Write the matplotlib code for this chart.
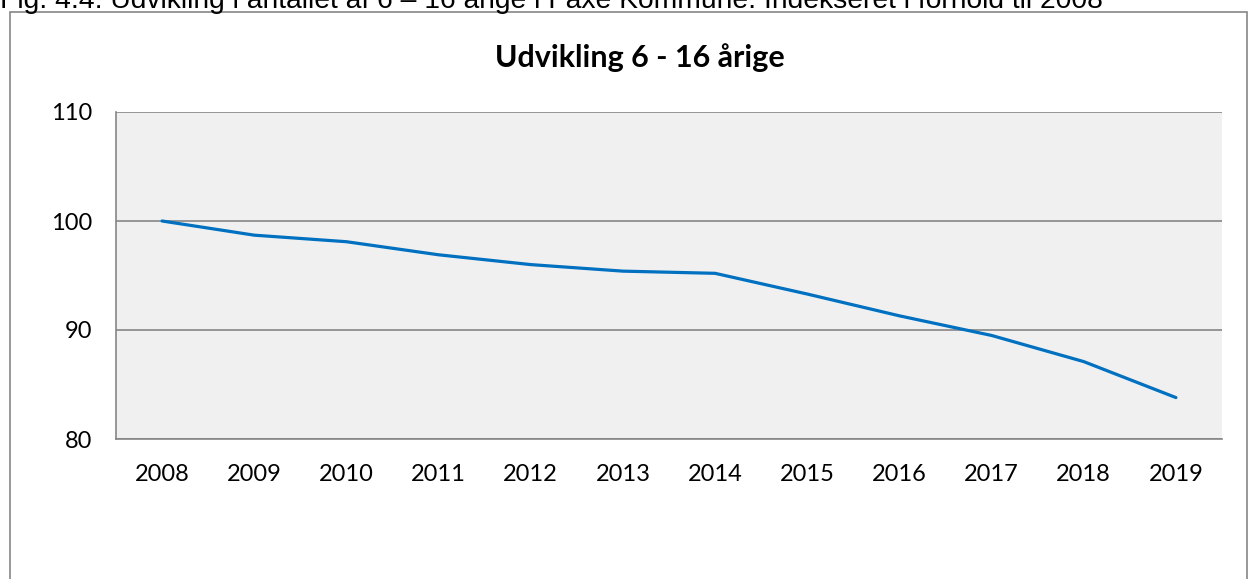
import matplotlib.pyplot as plt
from matplotlib.patches import Rectangle

years = ['2008', '2009', '2010', '2011', '2012', '2013',
         '2014', '2015', '2016', '2017', '2018', '2019']
index_values = [100, 98.7, 98.1, 96.9, 96.0, 95.4, 95.2, 93.3, 91.3, 89.5, 87.1, 83.8]
y_ticks = [80, 90, 100, 110]

W, H = 1249, 579
fig = plt.figure(figsize=(W / 100, H / 100), dpi=100)

# outer chart frame (bottom runs off the picture)
fig.patches.append(Rectangle((10 / W, -0.1), (1247 - 10) / W, 1.1 - 12 / H,
                             transform=fig.transFigure, fill=False,
                             edgecolor='#868686', linewidth=1.2))

# caption above, cut off at the top
fig.text(0, 1 - 7.5 / H, 'Fig. 4.4: Udvikling i antallet af 6 \u2013 16 årige i Faxe Kommune. '
         'Indekseret i forhold til 2008', family='Liberation Sans', fontsize=20.3,
         ha='left', va='baseline')

ax = fig.add_axes([116 / W, 1 - 439 / H, 1106 / W, 327 / H])
ax.set_facecolor('#f0f0f0')
x = range(len(years))
ax.plot(x, index_values, color='#0070c0', linewidth=2.3, solid_capstyle='round')

ax.set_xlim(-0.5, len(years) - 0.5)
ax.set_ylim(80, 110)
ax.set_yticks(y_ticks)
ax.set_xticks(list(x))
ax.set_xticklabels(years)
ax.grid(axis='y', color='#868686', linewidth=1.2)
ax.set_axisbelow(True)
for side in ['top', 'right']:
    ax.spines[side].set_visible(False)
for side in ['left', 'bottom']:
    ax.spines[side].set_color('#868686')
    ax.spines[side].set_linewidth(1.2)
ax.tick_params(length=0, labelsize=17)
ax.tick_params(axis='y', pad=17)
ax.tick_params(axis='x', pad=18)
for lab in ax.get_xticklabels() + ax.get_yticklabels():
    lab.set_family('Lato')

fig.text(640 / W, 1 - 58 / H, 'Udvikling 6 - 16 årige', family='Lato',
         fontweight='bold', fontsize=22, ha='center', va='center')

fig.savefig('out.png', dpi=100)
